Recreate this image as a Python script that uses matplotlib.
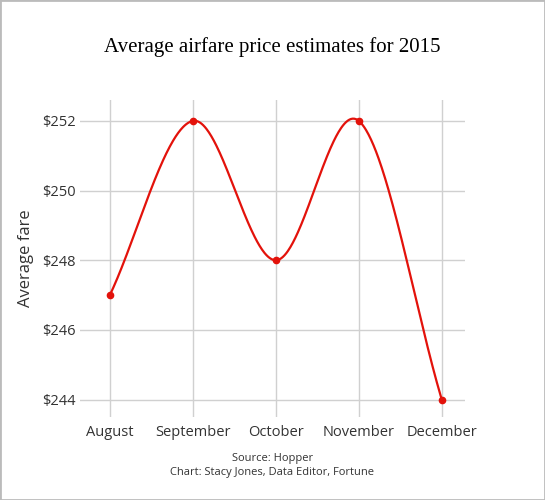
import matplotlib
matplotlib.use("Agg")
import matplotlib.pyplot as plt
import numpy as np
from matplotlib.patches import Rectangle

months = ["August", "September", "October", "November", "December"]
fares = [247, 252, 248, 252, 244]
yticks = [244, 246, 248, 250, 252]

def cardinal(x, y, xs, c=1.0):
    x = np.asarray(x, float); y = np.asarray(y, float)
    h = np.diff(x); d = np.diff(y) / h
    m = np.zeros_like(y)
    for i in range(1, len(y) - 1):
        m[i] = c * (y[i+1] - y[i-1]) / (x[i+1] - x[i-1])
    m[0] = d[0]; m[-1] = d[-1]
    out = []
    for t in xs:
        i = min(int(np.searchsorted(x, t, side="right") - 1), len(x) - 2)
        s = (t - x[i]) / h[i]
        h00 = 2*s**3 - 3*s**2 + 1; h10 = s**3 - 2*s**2 + s
        h01 = -2*s**3 + 3*s**2; h11 = s**3 - s**2
        out.append(h00*y[i] + h10*h[i]*m[i] + h01*y[i+1] + h11*h[i]*m[i+1])
    return np.array(out)

plt.rcParams['font.family'] = ['Open Sans', 'DejaVu Sans']
fig = plt.figure(figsize=(5.45, 5.0), dpi=100)
fig.patches.append(Rectangle((0, 0), 1, 1, transform=fig.transFigure, fill=False,
                             edgecolor="#bbbbbb", linewidth=2))
ax = fig.add_axes([80/545, 1 - 417/500, 385/545, 317/500])
x = np.arange(len(months))
xs = np.linspace(0, len(months) - 1, 400)
ax.plot(xs, cardinal(x, fares, xs), color="#e3120b", linewidth=1.6)
ax.plot(x, fares, "o", color="#e3120b", markersize=4.5)
ax.set_xlim(-0.36, 4.28)
ax.set_ylim(243.5, 252.6)
ax.set_xticks(x)
ax.set_xticklabels(months, fontsize=10.5)
ax.set_yticks(yticks)
ax.set_yticklabels([f"${v}" for v in yticks], fontsize=10.5)
ax.grid(True, color="#d0d0d0", linewidth=1)
ax.set_axisbelow(True)
for s in ax.spines.values():
    s.set_visible(False)
ax.tick_params(length=0, pad=3, colors="#333333")
ax.tick_params(axis="x", pad=6)
ax.set_ylabel("Average fare", fontsize=12, labelpad=6, color="#333333")
fig.text(0.5, 1 - 47/500, "Average airfare price estimates for 2015", ha="center",
         va="center", fontsize=15, family=["Liberation Serif", "DejaVu Serif"])
fig.text(0.5, 1 - 458/500, "Source: Hopper", ha="center", va="center", fontsize=8, color="#333333")
fig.text(0.5, 1 - 473/500, "Chart: Stacy Jones, Data Editor, Fortune", ha="center",
         va="center", fontsize=8, color="#333333")
fig.savefig("out.png", dpi=100)
